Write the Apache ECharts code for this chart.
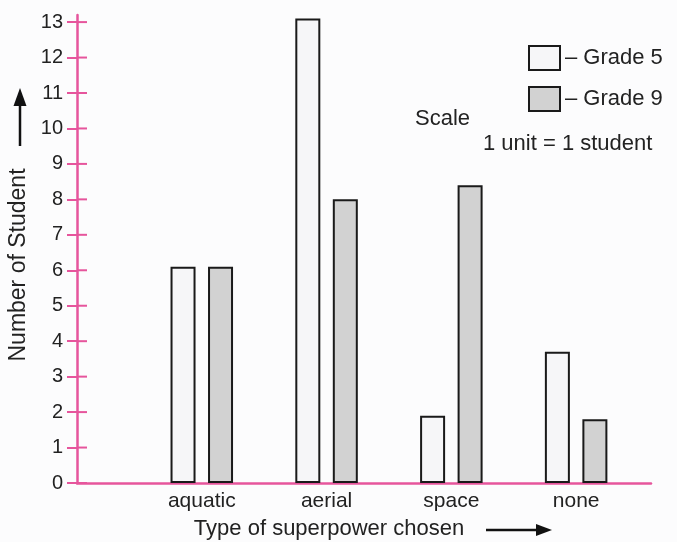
<!DOCTYPE html>
<html>
<head>
<meta charset="utf-8">
<script src="https://cdn.jsdelivr.net/npm/echarts@6/dist/echarts.min.js"></script>
<style>
html,body{margin:0;padding:0;background:#fcfcfd;}
#chart{width:677px;height:542px;}
</style>
</head>
<body>
<div id="chart"></div>
<script>
const categories = ['aquatic', 'aerial', 'space', 'none'];
const grade5 = [6.1, 13.1, 1.9, 3.7];
const grade9 = [6.1, 8.0, 8.4, 1.8];
const yTicks = [0,1,2,3,4,5,6,7,8,9,10,11,12,13];
const seriesNames = ['Grade 5', 'Grade 9'];

const PINK = '#e6559c';
const FONT = '"Liberation Sans", Arial, sans-serif';
const TXT = '#222';

const chart = echarts.init(document.getElementById('chart'));
chart.setOption({
  backgroundColor: '#fcfcfd',
  animation: false,
  grid: {left: 77, right: 26, top: 15, bottom: 59, outerBoundsMode: 'none'},
  legend: {
    orient: 'vertical', left: 528, top: 45, padding: 0,
    itemWidth: 31, itemHeight: 24, itemGap: 15, icon: 'rect',
    data: [
      {name: seriesNames[0], icon: 'rect', itemStyle: {color: '#f6f6f8', borderColor: '#1a1a1a', borderWidth: 2}},
      {name: seriesNames[1], icon: 'rect', itemStyle: {color: '#d2d2d2', borderColor: '#1a1a1a', borderWidth: 2}}
    ],
    formatter: n => '\u2013 ' + n,
    textStyle: {fontFamily: FONT, fontSize: 22, color: TXT}
  },
  xAxis: {
    type: 'value', min: 0, max: 4.6, interval: 1,
    name: 'Type of superpower chosen', nameLocation: 'middle', nameGap: 35,
    nameTextStyle: {fontFamily: FONT, fontSize: 22, color: TXT, padding: [0, 70, 0, 0]},
    axisLine: {show: true, lineStyle: {color: PINK, width: 2.5}},
    axisTick: {show: false},
    splitLine: {show: false},
    axisLabel: {
      fontFamily: FONT, fontSize: 21, color: TXT, margin: 8,
      formatter: v => (Number.isInteger(v) && categories[v - 1]) ? categories[v - 1] : '',
      showMaxLabel: false
    }
  },
  yAxis: {
    type: 'value', min: 0, max: 13.2, position: 'left',
    splitLine: {show: false},
    name: 'Number of Student', nameLocation: 'middle', nameGap: 46, nameRotate: 90,
    nameTextStyle: {fontFamily: FONT, fontSize: 23, color: TXT, padding: [0, 32, 0, 0]},
    axisLine: {show: true, lineStyle: {color: PINK, width: 2.5}},
    axisTick: {show: true, length: 10, inside: false, lineStyle: {color: PINK, width: 2}, customValues: yTicks},
    axisLabel: {fontFamily: FONT, fontSize: 20, color: TXT, margin: 14, customValues: yTicks}
  },
  series: [
    {
      name: seriesNames[0], type: 'bar', barWidth: 25, barGap: '50%',
      itemStyle: {color: '#f6f6f8', borderColor: '#1a1a1a', borderWidth: 2},
      data: categories.map((c, i) => [i + 1, grade5[i]])
    },
    {
      name: seriesNames[1], type: 'bar', barWidth: 25, barGap: '50%',
      itemStyle: {color: '#d2d2d2', borderColor: '#1a1a1a', borderWidth: 2},
      data: categories.map((c, i) => [i + 1, grade9[i]])
    },
    {
      // inner half of the crossing tick marks on the y axis
      name: 'yTickInner', type: 'custom', silent: true, z: 5,
      data: yTicks.map(v => [0, v]),
      renderItem: (params, api) => {
        const p = api.coord([0, api.value(1)]);
        return {type: 'line', shape: {x1: p[0], y1: p[1], x2: p[0] + 10, y2: p[1]},
                style: {stroke: PINK, lineWidth: 2}};
      }
    }
  ],
  graphic: [
    {type: 'text', left: 415, top: 108, style: {text: 'Scale', font: '22px ' + FONT, fill: TXT}},
    {type: 'text', left: 483, top: 133, style: {text: '1 unit = 1 student', font: '22px ' + FONT, fill: TXT}},
    {type: 'line', shape: {x1: 20, y1: 146, x2: 20, y2: 100}, style: {stroke: '#111', lineWidth: 2.5}},
    {type: 'polygon', shape: {points: [[20, 88], [13.5, 106], [26.5, 106]]}, style: {fill: '#111'}},
    {type: 'line', shape: {x1: 486, y1: 530, x2: 540, y2: 530}, style: {stroke: '#111', lineWidth: 2.5}},
    {type: 'polygon', shape: {points: [[552, 530], [536, 524], [536, 536]]}, style: {fill: '#111'}}
  ]
});
</script>
</body>
</html>
